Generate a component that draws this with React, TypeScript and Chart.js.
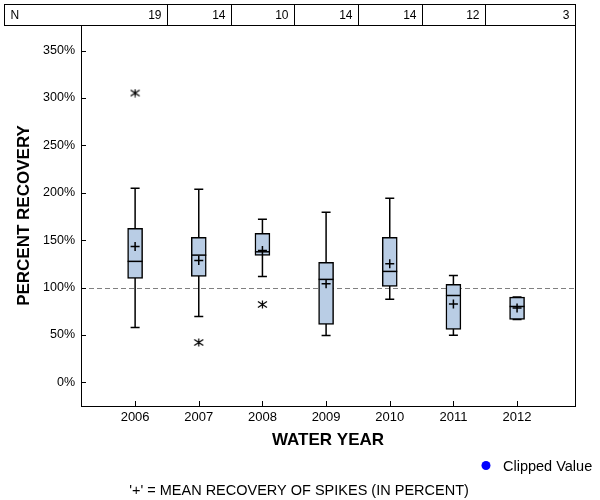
import React, { useEffect, useRef } from "react";
import { Chart, registerables } from "chart.js";

Chart.register(...registerables);

const years = [2006, 2007, 2008, 2009, 2010, 2011, 2012];
const counts = [19, 14, 10, 14, 14, 12, 3];
const whiskerLow = [57.8, 69.5, 111.7, 49.4, 87.7, 49.7, 66.3];
const boxLow = [109.6, 111.7, 133.9, 61, 101.2, 55.7, 66.3];
const medians = [127.6, 134.2, 137.7, 108.6, 117, 91.6, 80];
const boxHigh = [162.5, 153, 157.2, 126.5, 153, 103.3, 89.9];
const whiskerHigh = [204.8, 203.7, 172, 179.4, 194.2, 112.8, 89.9];
const means = [143.4, 128.6, 139, 104.1, 125, 82.5, 78.5];
const outlierYears = [2006, 2007, 2008];
const outlierValues = [305.2, 42, 82.1];
const yTicks = [0, 50, 100, 150, 200, 250, 300, 350];
const referenceValue = 100;

const FONT = "'Liberation Sans', Arial, sans-serif";

function makeStar(): HTMLCanvasElement {
  const c = document.createElement("canvas");
  c.width = 11;
  c.height = 9;
  const g = c.getContext("2d")!;
  g.strokeStyle = "#000";
  g.lineWidth = 1.2;
  g.beginPath();
  g.moveTo(5.5, 0.5);
  g.lineTo(5.5, 8.5);
  g.moveTo(1, 1.5);
  g.lineTo(10, 7.5);
  g.moveTo(1, 7.5);
  g.lineTo(10, 1.5);
  g.stroke();
  return c;
}

const extrasPlugin = {
  id: "boxExtras",
  beforeDatasetsDraw(chart: any) {
    const { ctx, chartArea, scales } = chart;
    const x = scales.x;
    const y = scales.y;
    ctx.save();
    ctx.strokeStyle = "#808080";
    ctx.lineWidth = 1;
    ctx.setLineDash([5, 3]);
    const ry = Math.round(y.getPixelForValue(referenceValue)) + 0.5;
    ctx.beginPath();
    ctx.moveTo(chartArea.left, ry);
    ctx.lineTo(chartArea.right, ry);
    ctx.stroke();
    ctx.setLineDash([]);
    ctx.strokeStyle = "#000";
    ctx.lineWidth = 1.5;
    years.forEach((yr, i) => {
      const px = x.getPixelForValue(yr);
      const lo = y.getPixelForValue(whiskerLow[i]);
      const hi = y.getPixelForValue(whiskerHigh[i]);
      ctx.beginPath();
      ctx.moveTo(px, lo);
      ctx.lineTo(px, hi);
      ctx.moveTo(px - 4.5, lo);
      ctx.lineTo(px + 4.5, lo);
      ctx.moveTo(px - 4.5, hi);
      ctx.lineTo(px + 4.5, hi);
      ctx.stroke();
    });
    ctx.restore();
  },
  afterDatasetsDraw(chart: any) {
    const { ctx, scales } = chart;
    const x = scales.x;
    const y = scales.y;
    const meta = chart.getDatasetMeta(2);
    ctx.save();
    ctx.strokeStyle = "#000";
    ctx.lineWidth = 1.5;
    years.forEach((yr, i) => {
      const px = x.getPixelForValue(yr);
      const el = meta.data[i];
      const half = el ? el.width / 2 : 7.5;
      const my = y.getPixelForValue(medians[i]);
      ctx.beginPath();
      ctx.moveTo(px - half, my);
      ctx.lineTo(px + half, my);
      ctx.stroke();
    });
    ctx.restore();
  },
  afterDraw(chart: any) {
    const { ctx, chartArea, scales } = chart;
    const x = scales.x;
    const y = scales.y;
    const { left, right, top, bottom } = chartArea;
    ctx.save();
    // frame
    ctx.strokeStyle = "#000";
    ctx.lineWidth = 1;
    ctx.strokeRect(Math.round(left) + 0.5, Math.round(top) + 0.5, Math.round(right - left), Math.round(bottom - top));
    // inner tick marks
    ctx.beginPath();
    yTicks.forEach((v) => {
      const py = Math.round(y.getPixelForValue(v)) + 0.5;
      ctx.moveTo(left, py);
      ctx.lineTo(left + 5, py);
    });
    years.forEach((yr) => {
      const px = Math.round(x.getPixelForValue(yr)) + 0.5;
      ctx.moveTo(px, bottom);
      ctx.lineTo(px, bottom - 5);
    });
    ctx.stroke();
    // N table
    const tTop = 4.5;
    const tBottom = Math.round(top) + 0.5;
    const tLeft = 4.5;
    const tRight = Math.round(right) + 0.5;
    ctx.strokeRect(tLeft, tTop, tRight - tLeft, tBottom - tTop);
    const bounds: number[] = [];
    years.forEach((yr, i) => {
      if (i < years.length - 1) bounds.push(Math.round(x.getPixelForValue(yr + 0.5)) + 0.5);
    });
    ctx.beginPath();
    bounds.forEach((bx) => {
      ctx.moveTo(bx, tTop);
      ctx.lineTo(bx, tBottom);
    });
    ctx.stroke();
    ctx.fillStyle = "#000";
    ctx.font = `12px ${FONT}`;
    ctx.textBaseline = "middle";
    const ty = (tTop + tBottom) / 2 + 0.5;
    ctx.textAlign = "left";
    ctx.fillText("N", tLeft + 6, ty);
    ctx.textAlign = "right";
    counts.forEach((n, i) => {
      const cellRight = i < bounds.length ? bounds[i] : tRight;
      ctx.fillText(String(n), cellRight - 6, ty);
    });
    // legend
    ctx.fillStyle = "#0000ff";
    ctx.beginPath();
    ctx.arc(486, 465.5, 4.5, 0, Math.PI * 2);
    ctx.fill();
    ctx.fillStyle = "#000";
    ctx.textAlign = "left";
    ctx.font = `14.5px ${FONT}`;
    ctx.fillText("Clipped Value", 503, 466.5);
    // footnote
    ctx.textAlign = "center";
    ctx.fillText("'+' = MEAN RECOVERY OF SPIKES (IN PERCENT)", 299, 491);
    ctx.restore();
  },
};

export default function App() {
  const ref = useRef<HTMLCanvasElement | null>(null);
  useEffect(() => {
    if (!ref.current) return;
    const star = makeStar();
    const chart = new Chart(ref.current, {
      type: "bar",
      data: {
        datasets: [
          {
            type: "scatter",
            label: "Mean",
            data: years.map((yr, i) => ({ x: yr, y: means[i] })),
            pointStyle: "cross",
            radius: 4.5,
            borderColor: "#000",
            backgroundColor: "#000",
            borderWidth: 1.5,
            order: 1,
          } as any,
          {
            type: "scatter",
            label: "Outliers",
            data: outlierYears.map((yr, i) => ({ x: yr, y: outlierValues[i] })),
            pointStyle: star,
            radius: 5,
            borderColor: "#000",
            order: 2,
          } as any,
          {
            type: "bar",
            label: "Box",
            data: years.map((yr, i) => ({ x: yr, y: [boxLow[i], boxHigh[i]] })),
            backgroundColor: "#b9cde5",
            borderColor: "#000",
            borderWidth: 1.5,
            borderSkipped: false,
            barThickness: 15,
            order: 3,
          } as any,
        ],
      },
      options: {
        animation: false,
        responsive: false,
        layout: { padding: { top: 25, right: 25, left: 0, bottom: 0 } },
        plugins: {
          legend: { display: false },
          tooltip: { enabled: false },
        },
        scales: {
          x: {
            type: "linear",
            min: 2005.15,
            max: 2012.91,
            offset: false,
            grid: { display: false, drawTicks: false, offset: false },
            border: { display: false },
            afterFit: (s: any) => {
              s.height = 94;
            },
            afterBuildTicks: (s: any) => {
              s.ticks = years.map((v) => ({ value: v }));
            },
            ticks: {
              color: "#000",
              font: { family: FONT, size: 13 },
              padding: 4,
              callback: (v: any) => String(v),
            },
            title: {
              display: true,
              text: "WATER YEAR",
              color: "#000",
              font: { family: FONT, size: 17, weight: "bold" },
              padding: { top: 0, bottom: 49 },
            },
          },
          y: {
            type: "linear",
            min: -25,
            max: 377,
            grid: { display: false, drawTicks: false },
            border: { display: false },
            afterFit: (s: any) => {
              s.width = 81;
            },
            afterBuildTicks: (s: any) => {
              s.ticks = yTicks.map((v) => ({ value: v }));
            },
            ticks: {
              color: "#000",
              font: { family: FONT, size: 12.5 },
              padding: 6,
              callback: (v: any) => `${v}%`,
            },
            title: {
              display: true,
              text: "PERCENT RECOVERY",
              color: "#000",
              font: { family: FONT, size: 17, weight: "bold" },
              padding: { top: 14, bottom: 0 },
            },
          },
        },
      },
      plugins: [extrasPlugin],
    } as any);
    return () => chart.destroy();
  }, []);
  return (
    <div style={{ position: "fixed", left: 0, top: 0, width: 600, height: 500, background: "#fff" }}>
      <canvas ref={ref} width={600} height={500} />
    </div>
  );
}
